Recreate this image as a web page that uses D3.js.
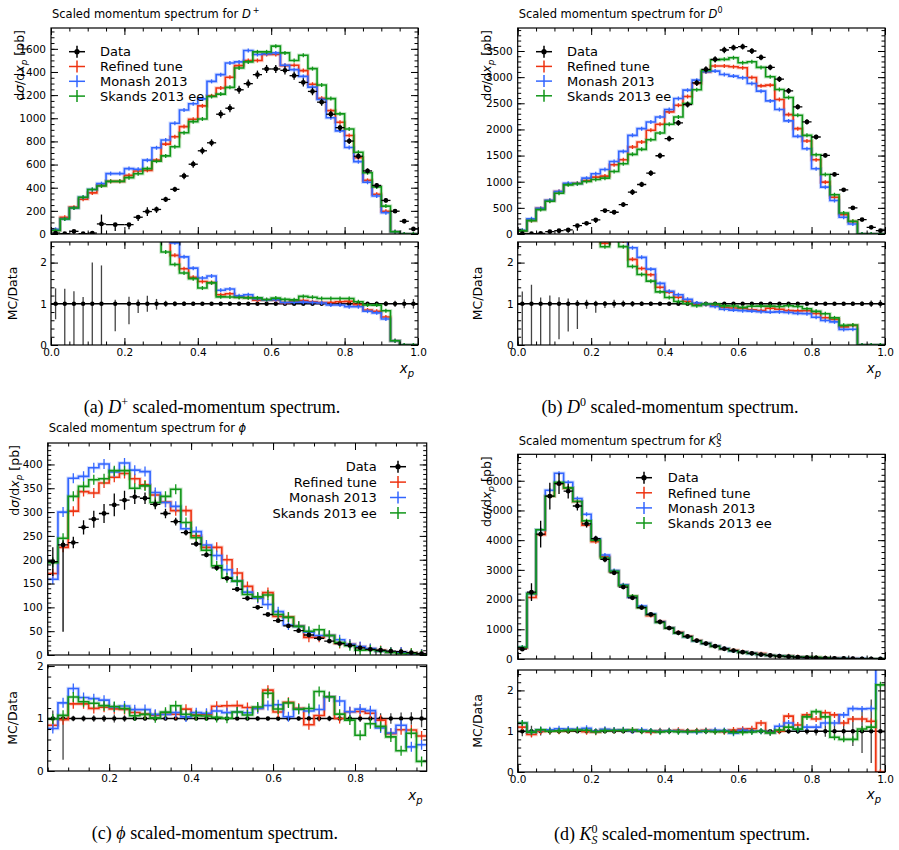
<!DOCTYPE html>
<html>
<head>
<meta charset="utf-8">
<script src="https://cdn.jsdelivr.net/npm/d3@7"></script>
<style>
  body { margin: 0; background: #fff; }
  svg { display: block; }
  text { font-family: "DejaVu Sans", sans-serif; }
  text.caption { font-family: "Liberation Serif", "DejaVu Serif", serif; }
</style>
</head>
<body>
<svg id="chart" width="899" height="850"></svg>
<script>
// ---- bins ----
const edges40 = d3.range(41).map(i => i * 0.025)
const phiEdges = d3.range(38).map(i => 0.05 + i * 0.025)
// D+ data has one merged bin 0.15-0.2
const dpDataEdges = [0, 0.025, 0.05, 0.075, 0.1, 0.125, 0.15, 0.2, 0.225, 0.25, 0.275, 0.3, 0.325, 0.35,
	0.375, 0.4, 0.425, 0.45, 0.475, 0.5, 0.525, 0.55, 0.575, 0.6, 0.625, 0.65, 0.675, 0.7, 0.725, 0.75,
	0.775, 0.8, 0.825, 0.85, 0.875, 0.9, 0.925, 0.95, 0.975, 1.0]

// ---- D+ ----
const dpData = [8, 3, 23, 3, 8, 87, 81, 81, 145, 194, 212, 299, 386, 501, 603, 719, 788, 1035, 1087, 1246,
	1299, 1377, 1426, 1426, 1414, 1368, 1310, 1232, 1139, 1035, 919, 803, 672, 545, 420, 290, 197, 110, 43]
const dpErrLo = [3, 3, 23, 3, 8, 87, 54, 40, 32, 38, 30, 22, 22, 28, 30, 30, 30, 35, 35, 35,
	35, 35, 35, 35, 35, 35, 35, 33, 30, 30, 28, 26, 24, 22, 20, 18, 15, 12, 5]
const dpErrHi = [3, 1.1, 7, 0.5, 8, 81, 8, 14, 15, 38, 25, 22, 22, 28, 30, 30, 30, 35, 35, 35,
	35, 35, 35, 35, 35, 35, 35, 33, 30, 30, 28, 26, 24, 22, 20, 18, 15, 12, 5]
const dpRefined = [35, 145, 232, 300, 355, 420, 455, 455, 507, 545, 550, 638, 777, 840, 928, 991, 1107, 1194, 1261, 1354,
	1455, 1499, 1499, 1551, 1551, 1455, 1458, 1412, 1294, 1173, 1066, 965, 851, 659, 463, 344, 197, 20, 0, 0]
const dpMonash = [40, 130, 225, 318, 385, 435, 522, 522, 565, 560, 638, 745, 812, 957, 1072, 1125, 1168, 1319, 1377, 1478,
	1487, 1586, 1551, 1557, 1565, 1458, 1420, 1362, 1269, 1162, 1004, 891, 747, 625, 447, 328, 183, 20, 0, 0]
const dpSkands = [30, 130, 225, 318, 385, 415, 455, 455, 487, 520, 565, 629, 675, 754, 875, 971, 994, 1188, 1209, 1267,
	1435, 1487, 1574, 1574, 1623, 1565, 1499, 1545, 1429, 1287, 1170, 1038, 907, 706, 529, 407, 241, 20, 0, 0]

// ---- D0 ----
const d0Data = [5, 5, 10, 45, 64, 77, 160, 205, 269, 448, 416, 563, 800, 947, 1164, 1497, 1823, 2124, 2476, 2892,
	3148, 3340, 3519, 3564, 3583, 3500, 3378, 3186, 2962, 2738, 2431, 2143, 1855, 1503, 1139, 845, 499, 275, 128, 64]
const d0ErrLo = [5, 5, 10, 45, 55, 52, 98, 25, 59, 45, 40, 45, 55, 50, 55, 55, 55, 55, 55, 60,
	60, 60, 60, 55, 55, 55, 55, 55, 55, 55, 50, 50, 45, 40, 35, 30, 25, 15, 10, 6]
const d0ErrHi = [1.5, 2.3, 1.5, 9, 10, 10, 15, 20, 20, 30, 40, 45, 55, 50, 55, 55, 55, 55, 55, 60,
	60, 60, 60, 55, 55, 55, 55, 55, 55, 55, 50, 50, 45, 40, 35, 30, 25, 15, 10, 6]
const d0Refined = [60, 260, 490, 640, 812, 955, 970, 1024, 1088, 1107, 1324, 1420, 1663, 1759, 1983, 2099, 2335, 2463, 2630, 2880,
	3100, 3212, 3212, 3199, 3180, 2994, 2834, 2847, 2572, 2284, 2015, 1779, 1420, 992, 704, 371, 237, 0, 0, 0]
const d0Monash = [70, 290, 490, 645, 812, 972, 965, 1068, 1152, 1235, 1388, 1580, 1887, 2015, 2143, 2239, 2380, 2591, 2751, 2943,
	3103, 3116, 3052, 3020, 2988, 2879, 2732, 2546, 2380, 2163, 1868, 1631, 1248, 896, 640, 320, 190, 0, 0, 0]
const d0Skands = [60, 256, 467, 625, 780, 940, 960, 1004, 1043, 1068, 1196, 1344, 1523, 1619, 1804, 1932, 2099, 2239, 2495, 2760,
	3130, 3327, 3340, 3372, 3276, 3295, 3186, 3007, 2764, 2610, 2271, 1887, 1516, 1139, 750, 403, 243, 0, 0, 0]

// ---- phi ----
const phiData = [196, 231, 236, 268, 285, 297, 315, 325, 332, 329, 316, 297, 280, 257, 233, 210, 183, 161, 138, 119,
	100, 85, 72, 61, 51, 42, 35, 29, 24, 20, 15, 12, 10, 8, 7, 5, 3]
const phiErrLo = [30, 182, 12, 15, 18, 20, 24, 20, 15, 12, 10, 10, 8, 6, 5, 5, 4, 4, 4, 4,
	4, 3, 3, 2.5, 2, 2, 2, 1.5, 1.5, 1.2, 1, 1, 1, 0.8, 0.8, 0.6, 0.5]
const phiErrHi = [30, 10, 12, 15, 18, 20, 24, 20, 15, 12, 10, 10, 8, 6, 5, 5, 4, 4, 4, 4,
	4, 3, 3, 2.5, 2, 2, 2, 1.5, 1.5, 1.2, 1, 1, 1, 0.8, 0.8, 0.6, 0.5]
const phiRefined = [171, 226, 302, 343, 340, 361, 373, 381, 370, 357, 336, 321, 303, 303, 250, 226, 226, 200, 172, 144,
	119, 131, 81, 80, 61, 37, 37, 41, 24, 22.6, 17, 13.2, 9.7, 5.7, 5.5, 3.9, 2.0]
const phiMonash = [159, 300, 371, 375, 393, 401, 384, 403, 388, 385, 341, 320, 312, 265, 259, 231, 209, 179, 155, 132,
	119, 106, 91, 63, 60, 48, 41, 41, 32, 22.6, 17.7, 13.8, 8.2, 5.8, 6.1, 2.3, 1.5]
const phiSkands = [194, 245, 333, 354, 368, 370, 387, 387, 350, 355, 320, 333, 348, 278, 246, 220, 187, 162, 155, 127,
	122, 126, 85, 79, 60, 50, 53, 41, 26, 19.4, 10.2, 10.8, 8.5, 5.2, 2.7, 3.6, 0.55]

// ---- K0S ----
const k0Data = [330, 2250, 4200, 5480, 5900, 5650, 5150, 4550, 4050, 3350, 2900, 2420, 2060, 1730, 1500, 1250, 1040, 880, 760, 620,
	520, 430, 345, 285, 230, 190, 150, 122, 98, 79, 63, 49, 38, 29, 22, 16, 11, 7.5, 4.5, 2.2]
const k0Err = [40, 300, 450, 450, 350, 250, 150, 120, 100, 90, 70, 50, 40, 30, 25, 20, 18, 15, 13, 11,
	10, 9, 8, 7, 6, 5.5, 5, 5, 4.5, 4.5, 4, 4, 4, 4, 4, 4, 4, 4, 3.5, 2.5]
const k0Refined = [363, 2070, 4180, 5480, 5900, 5750, 5300, 4500, 3950, 3450, 2950, 2480, 2100, 1740, 1460, 1260, 1050, 900, 760, 625,
	530, 430, 340, 293.6, 241.5, 201.4, 180, 118.3, 98, 108.2, 72.5, 68.6, 49.4, 42.1, 30.8, 19.2, 14.3, 9.75, 5.6, 0]
const k0Monash = [396, 2200, 4350, 5680, 6250, 5950, 5400, 4870, 4050, 3500, 2980, 2500, 2080, 1780, 1510, 1250, 1050, 880, 750, 610,
	525, 440, 350, 270.8, 234.6, 190, 150, 118.3, 109.8, 94.8, 66.2, 53.9, 41.8, 34.8, 26.4, 22.4, 17.1, 11.6, 7.0, 6.6]
const k0Skands = [396, 2200, 4350, 5480, 5950, 5760, 5300, 4650, 4000, 3400, 2950, 2470, 2120, 1730, 1500, 1230, 1040, 870, 750, 615,
	520, 425, 345, 276.5, 223.1, 186.2, 150, 117.1, 100.9, 86.9, 66.2, 66.2, 56.2, 39.2, 18.7, 12.8, 8.8, 7.9, 4.95, 4.7]

const seriesNames = ['Data', 'Refined tune', 'Monash 2013', 'Skands 2013 ee']
const mcColors = ['#EE3311', '#3366FF', '#109618']

const svg = d3.select('#chart')

// text with italic / super / subscript parts
function richText(sel, parts) {
	let shift = 0
	parts.forEach(pt => {
		const ts = sel.append('tspan').text(pt.t)
		const target = pt.sup ? -pt.sup : (pt.sub || 0)
		if (target !== shift) ts.attr('dy', target - shift)
		shift = target
		if (pt.i) ts.attr('font-style', 'italic')
		if (pt.size) ts.attr('font-size', pt.size)
		if (pt.dx) ts.attr('dx', pt.dx)
	})
	return sel
}

function tickRange(d0, d1, step) {
	const out = []
	for (let k = Math.ceil(d0 / step - 1e-6); k * step <= d1 + 1e-9; k++) out.push(+(k * step).toFixed(6))
	return out
}

function stepPoints(edges, vals) {
	const pts = []
	vals.forEach((v, i) => { pts.push([edges[i], v]); pts.push([edges[i + 1], v]) })
	return pts
}

let clipId = 0
function clipRect(x, y, w, h) {
	const id = 'clip' + (clipId++)
	svg.append('clipPath').attr('id', id).append('rect').attr('x', x).attr('y', y).attr('width', w).attr('height', h)
	return `url(#${id})`
}

function styleAxis(g) {
	g.select('.domain').remove()
	g.selectAll('.tick line').attr('stroke', '#000').attr('stroke-width', 1)
	g.attr('font-size', 10.5)
	g.selectAll('.tick text').attr('fill', '#000')
}

// inward ticks on all four sides of a frame
function drawFrame(g, x, y, top, bottom, left, right, t) {
	const sides = [
		[() => d3.axisBottom(x), `translate(0,${bottom})`, t.xMajor, t.xMinor, t.xLabels ? d3.format('.1f') : null],
		[() => d3.axisTop(x), `translate(0,${top})`, t.xMajor, t.xMinor, null],
		[() => d3.axisLeft(y), `translate(${left},0)`, t.yMajor, t.yMinor, d3.format('d')],
		[() => d3.axisRight(y), `translate(${right},0)`, t.yMajor, t.yMinor, null]
	]
	sides.forEach(([mk, tr, major, minor, fmt]) => {
		const gm = g.append('g').attr('transform', tr)
			.call(mk().tickValues(minor).tickSize(-3.5).tickFormat(''))
		styleAxis(gm)
		const gM = g.append('g').attr('transform', tr)
			.call(mk().tickValues(major).tickSize(-7).tickPadding(fmt ? (t.pad || 4) : 0).tickFormat(fmt || ''))
		styleAxis(gM)
	})
	g.append('rect').attr('x', left).attr('y', top).attr('width', right - left).attr('height', bottom - top)
		.attr('fill', 'none').attr('stroke', '#000').attr('stroke-width', 1.2)
}

function legendMarker(g, cx, cy, color, isData) {
	g.append('line').attr('x1', cx - 8).attr('x2', cx + 8).attr('y1', cy).attr('y2', cy)
		.attr('stroke', color).attr('stroke-width', 1.5)
	g.append('line').attr('x1', cx).attr('x2', cx).attr('y1', cy - 6).attr('y2', cy + 6)
		.attr('stroke', color).attr('stroke-width', 1.5)
	if (isData) g.append('circle').attr('cx', cx).attr('cy', cy).attr('r', 2.6).attr('fill', color)
}

function drawPanel(p) {
	const g = svg.append('g')
	const x = d3.scaleLinear().domain(p.xDomain).range([p.x0, p.x1])
	const y = d3.scaleLinear().domain([0, p.yMax]).range([p.y1, p.y0])
	const yr = d3.scaleLinear().domain([0, p.rMax]).range([p.r1, p.r0])

	const line = d3.line().x(d => x(d[0])).y(d => y(d[1]))
	const rline = d3.line().x(d => x(d[0])).y(d => yr(d[1]))

	// ---------- main plot ----------
	const gm = g.append('g').attr('clip-path', clipRect(p.x0, p.y0, p.x1 - p.x0, p.y1 - p.y0))
	p.mc.forEach((vals, k) => {
		const pts = stepPoints(p.edges, vals)
		gm.append('path').attr('d', line(pts)).attr('fill', 'none')
			.attr('stroke', mcColors[k]).attr('stroke-width', 3.6).attr('stroke-opacity', 0.22)
		gm.append('path').attr('d', line(pts)).attr('fill', 'none')
			.attr('stroke', mcColors[k]).attr('stroke-width', 1.6)
		vals.forEach((v, i) => {
			const cx = x((p.edges[i] + p.edges[i + 1]) / 2)
			gm.append('line').attr('x1', cx).attr('x2', cx)
				.attr('y1', y(v) - p.mcTick).attr('y2', y(v) + p.mcTick)
				.attr('stroke', mcColors[k]).attr('stroke-width', 1.3)
		})
	})
	p.data.forEach((v, i) => {
		const a = p.dataEdges[i], b = p.dataEdges[i + 1]
		const cx = x((a + b) / 2), cy = y(v)
		gm.append('line').attr('x1', x(a)).attr('x2', x(b)).attr('y1', cy).attr('y2', cy)
			.attr('stroke', '#000').attr('stroke-width', 1.3)
		gm.append('line').attr('x1', cx).attr('x2', cx).attr('y1', y(v - p.lo[i])).attr('y2', y(v + p.hi[i]))
			.attr('stroke', '#000').attr('stroke-width', 1.3)
		gm.append('circle').attr('cx', cx).attr('cy', cy).attr('r', 2.4).attr('fill', '#000')
	})

	drawFrame(g, x, y, p.y0, p.y1, p.x0, p.x1, {
		xMajor: p.xMajor, xMinor: p.xMinor, xLabels: false,
		yMajor: tickRange(0, p.yMax, p.yStep), yMinor: tickRange(0, p.yMax, p.yMinorStep), pad: 5
	})

	// ---------- ratio plot ----------
	const gr = g.append('g').attr('clip-path', clipRect(p.x0, p.r0, p.x1 - p.x0, p.r1 - p.r0))
	const dataAt = c => {
		for (let j = 0; j < p.data.length; j++) {
			if (c >= p.dataEdges[j] && c < p.dataEdges[j + 1]) return p.data[j]
		}
		return 0
	}
	p.data.forEach((v, i) => {
		const cx = x((p.dataEdges[i] + p.dataEdges[i + 1]) / 2)
		const lo = Math.max(-1, 1 - p.lo[i] / v), hi = Math.min(20, 1 + p.hi[i] / v)
		gr.append('line').attr('x1', cx).attr('x2', cx).attr('y1', yr(lo)).attr('y2', yr(hi))
			.attr('stroke', '#444').attr('stroke-width', 1.3)
	})
	gr.append('line').attr('x1', p.x0).attr('x2', p.x1).attr('y1', yr(1)).attr('y2', yr(1))
		.attr('stroke', '#000').attr('stroke-width', 1.6)
	p.data.forEach((v, i) => {
		const cx = x((p.dataEdges[i] + p.dataEdges[i + 1]) / 2)
		gr.append('circle').attr('cx', cx).attr('cy', yr(1)).attr('r', 2.2).attr('fill', '#000')
	})
	p.mc.forEach((vals, k) => {
		const ratio = vals.map((v, i) => {
			const d = dataAt((p.edges[i] + p.edges[i + 1]) / 2)
			return d > 0 ? Math.min(v / d, 20) : 20
		})
		const pts = stepPoints(p.edges, ratio)
		gr.append('path').attr('d', rline(pts)).attr('fill', 'none')
			.attr('stroke', mcColors[k]).attr('stroke-width', 3.6).attr('stroke-opacity', 0.22)
		gr.append('path').attr('d', rline(pts)).attr('fill', 'none')
			.attr('stroke', mcColors[k]).attr('stroke-width', 1.6)
		ratio.forEach((r, i) => {
			if (r >= 20) return
			const cx = x((p.edges[i] + p.edges[i + 1]) / 2)
			gr.append('line').attr('x1', cx).attr('x2', cx)
				.attr('y1', yr(r) - p.rTick).attr('y2', yr(r) + p.rTick)
				.attr('stroke', mcColors[k]).attr('stroke-width', 1.3)
		})
	})

	drawFrame(g, x, yr, p.r0, p.r1, p.x0, p.x1, {
		xMajor: p.xMajor, xMinor: p.xMinor, xLabels: true,
		yMajor: [0, 1, 2], yMinor: tickRange(0, p.rMax, 0.2), pad: 4
	})

	// ---------- texts ----------
	richText(g.append('text').attr('x', p.x0 + 1).attr('y', p.titleY).attr('font-size', 11.5), p.title)

	richText(g.append('text').attr('transform', `translate(${p.ylabX},${p.y0 + 2}) rotate(-90)`)
		.attr('text-anchor', 'end').attr('font-size', 12.5),
		[{ t: 'd' }, { t: 'σ', i: true }, { t: '/d' }, { t: 'x', i: true }, { t: 'p', i: true, sub: 3, size: 9 }, { t: '  [pb]' }])

	g.append('text').attr('transform', `translate(${p.rylabX},${(p.r0 + p.r1) / 2}) rotate(-90)`)
		.attr('text-anchor', 'middle').attr('font-size', 12.5).text('MC/Data')

	richText(g.append('text').attr('x', p.x1 - 4).attr('y', p.xlabY).attr('text-anchor', 'end').attr('font-size', 13.5),
		[{ t: 'x', i: true }, { t: 'p', i: true, sub: 3.5, size: 10 }])

	// legend
	const lg = g.append('g')
	seriesNames.forEach((name, k) => {
		const cy = p.legend.y + k * p.legend.dy
		const color = k === 0 ? '#000' : mcColors[k - 1]
		legendMarker(lg, p.legend.mx, cy, color, k === 0)
		lg.append('text').attr('x', p.legend.tx).attr('y', cy + 4.7)
			.attr('text-anchor', p.legend.anchor).attr('font-size', 13).text(name)
	})

	// caption
	richText(g.append('text').attr('class', 'caption').attr('x', p.capX).attr('y', p.capY)
		.attr('text-anchor', 'middle').attr('font-size', 18), p.caption)
}

const xTicks01 = { major: tickRange(0, 1, 0.2), minor: tickRange(0, 1, 0.05) }
const capTail = { t: ' scaled-momentum spectrum.' }

const panels = [
	{
		x0: 51, x1: 418, y0: 28, y1: 234, r0: 242, r1: 345,
		xDomain: [0, 1], xMajor: xTicks01.major, xMinor: xTicks01.minor,
		yMax: 1780, yStep: 200, yMinorStep: 50, rMax: 2.5,
		edges: edges40, dataEdges: dpDataEdges, data: dpData, lo: dpErrLo, hi: dpErrHi,
		mc: [dpRefined, dpMonash, dpSkands], mcTick: 2, rTick: 2,
		titleY: 18, title: [{ t: 'Scaled momentum spectrum for ' }, { t: 'D', i: true }, { t: '+', sup: 5, size: 8, dx: 2 }],
		ylabX: 24, rylabX: 16.5, xlabY: 373,
		legend: { mx: 77, tx: 100, y: 51.7, dy: 14.8, anchor: 'start' },
		capX: 212, capY: 413,
		caption: [{ t: '(a) ' }, { t: 'D', i: true }, { t: '+', sup: 7, size: 12 }, capTail]
	},
	{
		x0: 517.7, x1: 885, y0: 28, y1: 234, r0: 242, r1: 345,
		xDomain: [0, 1], xMajor: xTicks01.major, xMinor: xTicks01.minor,
		yMax: 3940, yStep: 500, yMinorStep: 100, rMax: 2.5,
		edges: edges40, dataEdges: edges40, data: d0Data, lo: d0ErrLo, hi: d0ErrHi,
		mc: [d0Refined, d0Monash, d0Skands], mcTick: 2, rTick: 2,
		titleY: 18, title: [{ t: 'Scaled momentum spectrum for ' }, { t: 'D', i: true }, { t: '0', sup: 5, size: 8 }],
		ylabX: 491, rylabX: 481.5, xlabY: 373,
		legend: { mx: 544, tx: 567, y: 51.7, dy: 14.7, anchor: 'start' },
		capX: 670, capY: 412.5,
		caption: [{ t: '(b) ' }, { t: 'D', i: true }, { t: '0', sup: 7, size: 12 }, capTail]
	},
	{
		x0: 47.7, x1: 426.7, y0: 443, y1: 655, r0: 665, r1: 771,
		xDomain: [0.05, 0.975], xMajor: tickRange(0.2, 0.8, 0.2), xMinor: tickRange(0.05, 0.975, 0.05),
		yMax: 445, yStep: 50, yMinorStep: 10, rMax: 2.02,
		edges: phiEdges, dataEdges: phiEdges, data: phiData, lo: phiErrLo, hi: phiErrHi,
		mc: [phiRefined, phiMonash, phiSkands], mcTick: 5, rTick: 5,
		titleY: 432, title: [{ t: 'Scaled momentum spectrum for ' }, { t: 'ϕ', i: true }],
		ylabX: 18.5, rylabX: 17, xlabY: 800,
		legend: { mx: 398, tx: 376.7, y: 466.7, dy: 15.4, anchor: 'end' },
		capX: 215, capY: 838.5,
		caption: [{ t: '(c) ' }, { t: 'ϕ', i: true }, capTail]
	},
	{
		x0: 517.7, x1: 885, y0: 454.3, y1: 659, r0: 670, r1: 772,
		xDomain: [0, 1], xMajor: xTicks01.major, xMinor: xTicks01.minor,
		yMax: 6890, yStep: 1000, yMinorStep: 200, rMax: 2.5,
		edges: edges40, dataEdges: edges40, data: k0Data, lo: k0Err, hi: k0Err,
		mc: [k0Refined, k0Monash, k0Skands], mcTick: 2, rTick: 3,
		titleY: 444.5, title: [{ t: 'Scaled momentum spectrum for ' }, { t: 'K', i: true },
			{ t: '0', sup: 5, size: 8 }, { t: 'S', i: true, sub: 2.5, size: 8, dx: -5 }],
		ylabX: 491, rylabX: 482, xlabY: 799,
		legend: { mx: 644, tx: 667.7, y: 477.7, dy: 15.1, anchor: 'start' },
		capX: 682, capY: 840,
		caption: [{ t: '(d) ' }, { t: 'K', i: true }, { t: '0', sup: 7, size: 12 },
			{ t: 'S', i: true, sub: 3.5, size: 12, dx: -6 }, capTail]
	}
]

panels.forEach(drawPanel)
</script>
</body>
</html>
